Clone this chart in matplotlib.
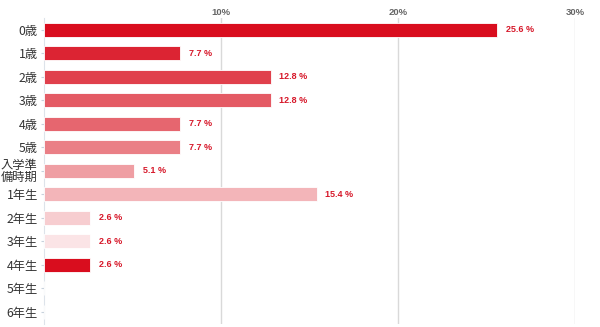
import matplotlib

matplotlib.use("Agg")
import matplotlib.pyplot as plt  # noqa: E402

plt.rcParams["font.family"] = ["Noto Sans CJK JP", "DejaVu Sans"]

categories = ["0歳", "1歳", "2歳", "3歳", "4歳", "5歳", "入学準\n備時期",
              "1年生", "2年生", "3年生", "4年生", "5年生", "6年生"]
shares = [25.6, 7.7, 12.8, 12.8, 7.7, 7.7, 5.1, 15.4, 2.6, 2.6, 2.6, 0.0, 0.0]
bar_colors = ["#d90d1e", "#dc2433", "#e0404c", "#e45a64", "#e6666f", "#ea7f86",
              "#ef9ea3", "#f3b5b9", "#f7cdd0", "#fbe4e6", "#d90d1e", "#ffffff", "#ffffff"]
x_ticks = [10, 20, 30]

fig = plt.figure(figsize=(6.0, 3.27), dpi=100)
ax = fig.add_axes([44 / 600, 3.3 / 327, 531 / 600, 305.7 / 327])

ypos = list(range(len(categories)))
ax.barh(ypos, shares, height=0.6, color=bar_colors, edgecolor="white", linewidth=0.6, zorder=3)
for y, v in zip(ypos, shares):
    if v > 0:
        ax.text(v + 0.5, y, f"{v:.1f} %", va="center", ha="left",
                fontsize=6.5, fontweight="bold", color="#d7182a", family="Liberation Sans")

ax.set_xlim(0, 30)
ax.set_ylim(len(categories) - 0.5, -0.5)
ax.set_xticks(x_ticks)
ax.set_xticklabels([f"{t}%" for t in x_ticks], fontsize=6.8, fontweight="bold",
                   color="#666666", family="Liberation Sans")
ax.xaxis.tick_top()
ax.tick_params(axis="x", length=0, pad=0.5)
ax.grid(axis="x", color="#d9d9d9", linewidth=1.0, zorder=0)

ax.set_yticks(ypos)
ax.set_yticklabels(categories, fontsize=8.8, color="#333333", linespacing=0.9,
                   multialignment="center")
ax.tick_params(axis="y", length=2, color="#c8d2dc", pad=2.5)

for side in ("top", "right", "bottom"):
    ax.spines[side].set_visible(False)
ax.spines["left"].set_color("#dde3ea")
ax.spines["left"].set_linewidth(0.8)

fig.savefig("out.png", dpi=100)
